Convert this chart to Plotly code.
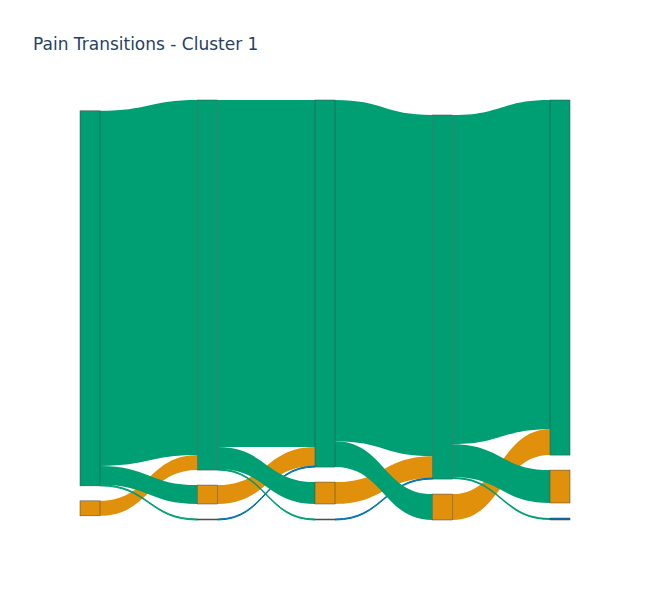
import plotly.graph_objects as go

# pain state colours
green = "#009E73"
orange = "#E0900A"
blue = "#0072B2"

# nodes, column by column: visit 1..5
node_labels = ["", "", "", "", "", "", "", "", "", "", "", "", ""]
node_colors = [green, orange,
               green, orange, blue,
               green, orange, blue,
               green, orange,
               green, orange, blue]

# transitions between consecutive visits (counts)
# orange sources first, then blue, then green so green bands sit on top
sources = [1, 3, 6, 9,
           4, 7,
           0, 0, 0, 2, 2, 2, 5, 5, 8, 8, 8]
targets = [2, 5, 8, 10,
           5, 8,
           2, 3, 4, 5, 6, 7, 8, 9, 10, 11, 12]
values = [15, 19, 22, 26,
          1, 1,
          356, 19, 1, 348, 22, 1, 342, 26, 330, 33, 2]

link_colors = [node_colors[s] for s in sources]

fig = go.Figure(go.Sankey(
    node=dict(
        label=node_labels,
        color=node_colors,
        pad=15,
        thickness=20,
    ),
    link=dict(
        source=sources,
        target=targets,
        value=values,
        color=link_colors,
    ),
))

fig.update_layout(
    title=dict(text="Pain Transitions - Cluster 1", x=0.039, y=0.939,
               yanchor="middle"),
    font=dict(family="DejaVu Sans"),
    width=642,
    height=592,
    margin=dict(l=72, r=80, t=92, b=80),
)

fig.write_html("out.html")
